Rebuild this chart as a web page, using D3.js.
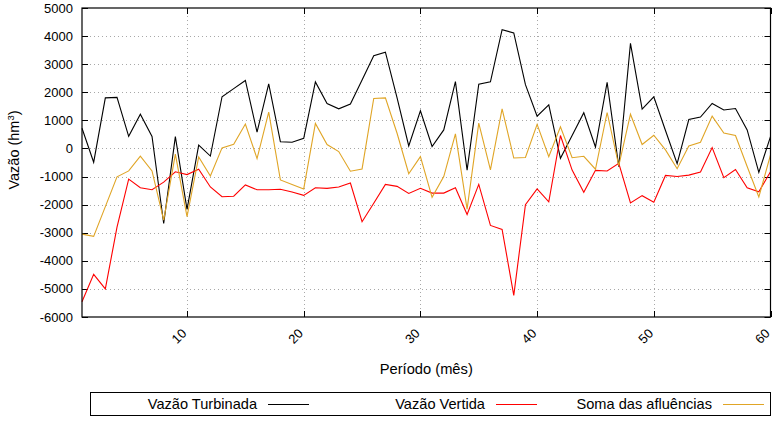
<!DOCTYPE html>
<html>
<head>
<meta charset="utf-8">
<script src="https://cdn.jsdelivr.net/npm/d3@7"></script>
<style>
  body { margin: 0; background: #fff; }
  svg { display: block; font-family: "Liberation Sans", Arial, sans-serif; }
</style>
</head>
<body>
<div id="chart"></div>
<script>
// Monthly flows (hm3), months 1..60
const months = d3.range(1, 61);

const turbinada = [
  720, -490, 1800, 1820, 430, 1220, 430, -2670, 420, -2170,
  120, -270, 1840, 2130, 2420, 580, 2300, 240, 220, 360,
  2370, 1600, 1410, 1580, 2440, 3300, 3430, 1800, 90, 1340,
  70, 660, 2380, -770, 2290, 2370, 4230, 4110, 2270, 1150,
  1550, -350, 460, 1270, 50, 2350, -650, 3740, 1400, 1840,
  640, -540, 1030, 1120, 1600, 1370, 1420, 660, -850, 420
];

const vertida = [
  -5460, -4480, -5000, -2800, -1090, -1400, -1470, -1200, -830, -930,
  -740, -1370, -1720, -1700, -1300, -1470, -1470, -1450, -1550, -1670,
  -1400, -1420, -1370, -1230, -2610, -1950, -1280, -1350, -1600, -1420,
  -1590, -1590, -1400, -2350, -1280, -2740, -2880, -5230, -2000, -1440,
  -1900, 460, -770, -1560, -780, -800, -530, -1940, -1680, -1910,
  -960, -1000, -950, -840, 30, -1040, -750, -1400, -1540, -830
];

const afluencias = [
  -3050, -3130, -2070, -1010, -800, -270, -800, -2550, -200, -2430,
  -300, -980, 20, 150, 870, -360, 1290, -1120, -1280, -1440,
  890, 140, -110, -810, -730, 1780, 1800, 540, -900, -290,
  -1740, -1000, 520, -2160, 900, -760, 1410, -340, -320, 860,
  -290, 770, -330, -280, -740, 1280, -610, 1220, 140, 470,
  -50, -720, 90, 220, 1150, 550, 460, -640, -1730, -230
];

const xTicks = [10, 20, 30, 40, 50, 60];
const yTicks = d3.range(-6000, 5001, 1000);

const series = [
  { name: 'Vazão Turbinada', values: turbinada, color: '#000000' },
  { name: 'Vazão Vertida', values: vertida, color: '#ff0000' },
  { name: 'Soma das afluências', values: afluencias, color: '#e0a526' }
];

const W = 775, H = 424;
const plot = { left: 82, right: 770.5, top: 8, bottom: 317 };

const svg = d3.select('#chart').append('svg')
  .attr('width', W).attr('height', H);

const x = d3.scaleLinear().domain([1, 60]).range([plot.left, plot.right]);
const y = d3.scaleLinear().domain([-6000, 5000]).range([plot.bottom, plot.top]);

// dotted grid
const grid = svg.append('g').attr('stroke', '#a8a8a8').attr('stroke-width', 1)
  .attr('stroke-dasharray', '1,3');
grid.selectAll('.gy').data(yTicks.slice(1, -1)).join('line')
  .attr('x1', plot.left).attr('x2', plot.right)
  .attr('y1', d => Math.round(y(d)) + 0.5).attr('y2', d => Math.round(y(d)) + 0.5);
grid.selectAll('.gx').data(xTicks.slice(0, -1)).join('line')
  .attr('y1', plot.top).attr('y2', plot.bottom)
  .attr('x1', d => Math.round(x(d)) + 0.5).attr('x2', d => Math.round(x(d)) + 0.5);

// inward ticks on all four sides
const ticks = svg.append('g').attr('stroke', '#000').attr('stroke-width', 1);
yTicks.forEach(v => {
  const yy = Math.round(y(v)) + 0.5;
  ticks.append('line').attr('x1', plot.left).attr('x2', plot.left + 6).attr('y1', yy).attr('y2', yy);
  ticks.append('line').attr('x1', plot.right).attr('x2', plot.right - 6).attr('y1', yy).attr('y2', yy);
});
xTicks.forEach(v => {
  const xx = Math.round(x(v)) + 0.5;
  ticks.append('line').attr('x1', xx).attr('x2', xx).attr('y1', plot.bottom).attr('y2', plot.bottom - 6);
  ticks.append('line').attr('x1', xx).attr('x2', xx).attr('y1', plot.top).attr('y2', plot.top + 6);
});

// series lines
const line = d3.line().x((d, i) => x(months[i])).y(d => y(d));
svg.append('g').selectAll('path').data(series).join('path')
  .attr('d', d => line(d.values))
  .attr('fill', 'none')
  .attr('stroke', d => d.color)
  .attr('stroke-width', 1.1)
  .attr('stroke-linejoin', 'miter');

// frame
svg.append('rect')
  .attr('x', plot.left).attr('y', plot.top)
  .attr('width', plot.right - plot.left).attr('height', plot.bottom - plot.top)
  .attr('fill', 'none').attr('stroke', '#000').attr('stroke-width', 1.2);

// y tick labels
svg.append('g').selectAll('text').data(yTicks).join('text')
  .attr('x', plot.left - 9)
  .attr('y', d => y(d))
  .attr('dy', '0.35em')
  .attr('text-anchor', 'end')
  .style('font-size', '13px')
  .text(d => d);

// x tick labels (rotated)
svg.append('g').selectAll('text').data(xTicks).join('text')
  .attr('transform', d => `translate(${x(d) - 3},${plot.bottom + 14}) rotate(-45)`)
  .attr('text-anchor', 'end')
  .attr('dy', '0.35em')
  .style('font-size', '13px')
  .text(d => d);

// axis titles
svg.append('text')
  .attr('x', (plot.left + plot.right) / 2).attr('y', 374)
  .attr('text-anchor', 'middle')
  .style('font-size', '14.7px')
  .text('Período (mês)');

const yl = svg.append('text')
  .attr('transform', `translate(19,150) rotate(-90)`)
  .attr('text-anchor', 'middle')
  .style('font-size', '14.5px');
yl.append('tspan').text('Vazão (hm');
yl.append('tspan').attr('baseline-shift', 'super').style('font-size', '9.5px').text('3');
yl.append('tspan').text(')');

// legend
const legend = svg.append('g');
legend.append('rect')
  .attr('x', 90.5).attr('y', 392.5).attr('width', 680).attr('height', 23)
  .attr('fill', '#fff').attr('stroke', '#000').attr('stroke-width', 1);
const legendEnds = [257, 485, 712];
series.forEach((s, i) => {
  const tx = legendEnds[i];
  legend.append('text')
    .attr('x', tx).attr('y', 404).attr('dy', '0.35em')
    .attr('text-anchor', 'end')
    .style('font-size', '14.6px')
    .text(s.name);
  legend.append('line')
    .attr('x1', tx + 11).attr('x2', tx + 52)
    .attr('y1', 404.5).attr('y2', 404.5)
    .attr('stroke', s.color).attr('stroke-width', 1.2);
});
</script>
</body>
</html>
